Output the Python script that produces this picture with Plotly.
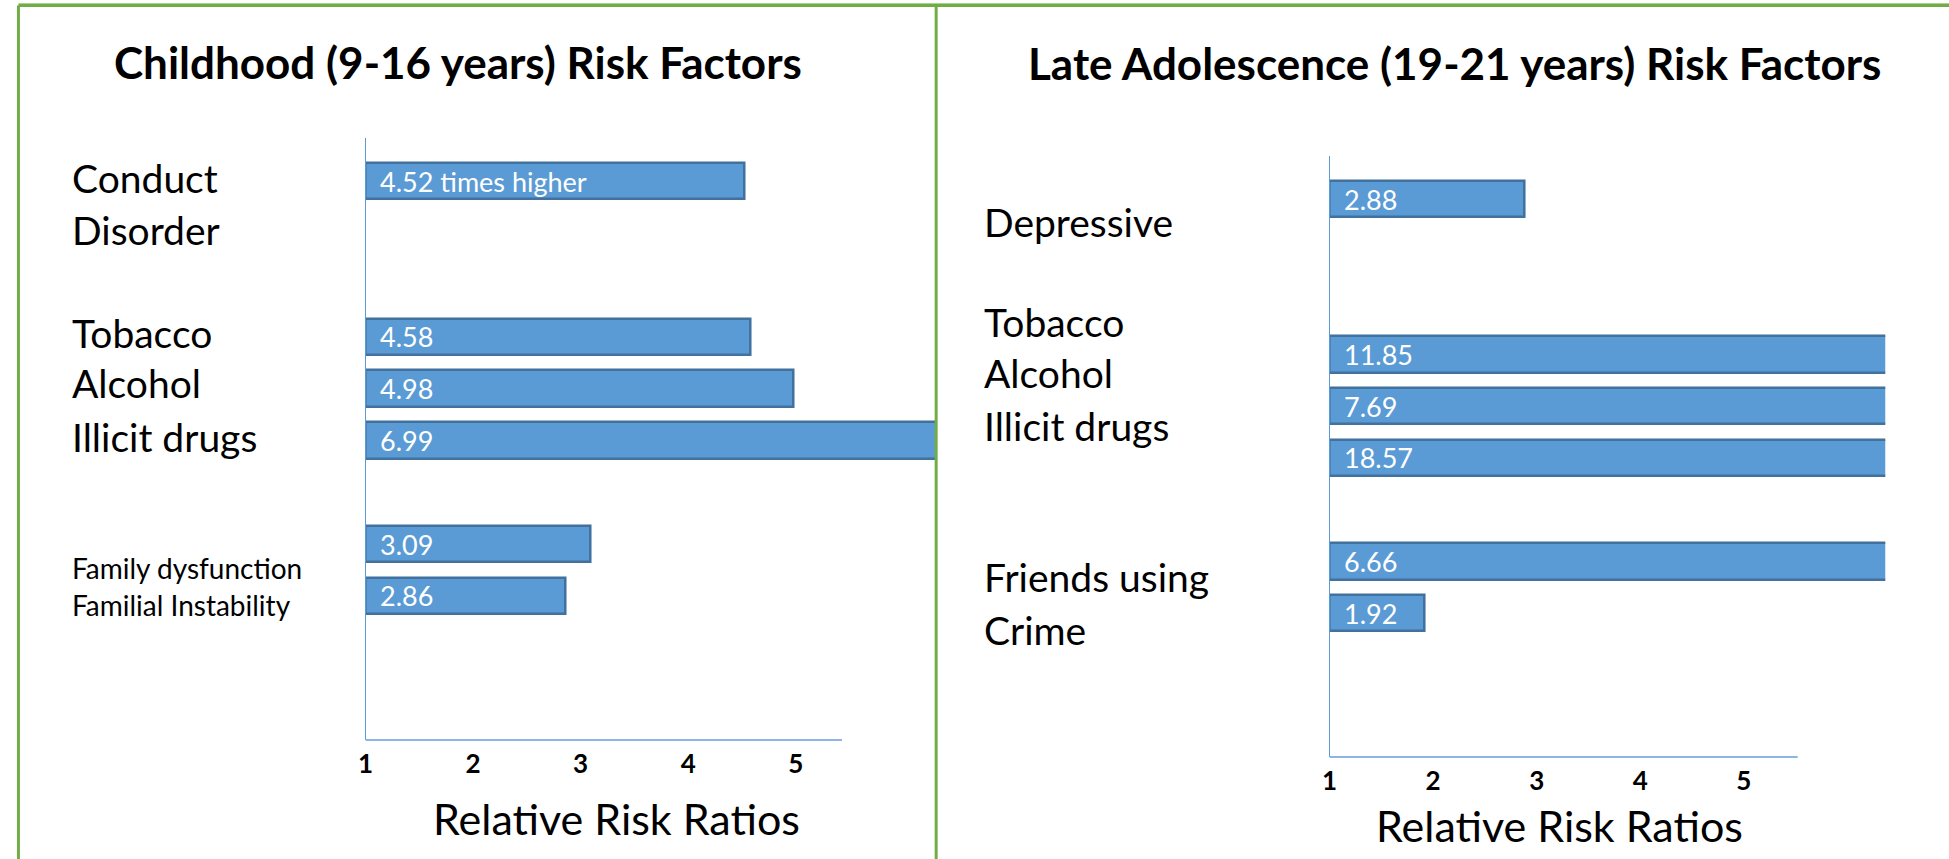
import plotly.graph_objects as go

W, H = 1949, 859
FONT = "Lato, 'Open Sans', sans-serif"

BAR_FILL = "#5b9bd5"
BAR_EDGE = "#41719c"
AXIS_BLUE = "#5b9bd5"
BASE_BLUE = "#8eb4e3"
FRAME_GREEN = "#70ad47"

# ---- Childhood (9-16 years) ----
child_title = "Childhood (9-16 years) Risk Factors"
child_bars = ["Conduct Disorder", "Tobacco", "Alcohol", "Illicit drugs",
              "Family dysfunction", "Familial Instability"]
child_rr = [4.52, 4.58, 4.98, 6.99, 3.09, 2.86]
child_suffix = [" times higher", "", "", "", "", ""]
child_rows = ["Conduct Disorder", "gap-a", "gap-b", "Tobacco", "Alcohol",
              "Illicit drugs", "gap-c", "Family dysfunction", "Familial Instability"]
child_side_big = ["Conduct", "Disorder", "Tobacco", "Alcohol", "Illicit drugs"]
child_side_small = ["Family dysfunction", "Familial Instability"]

# ---- Late Adolescence (19-21 years) ----
late_title = "Late Adolescence (19-21 years) Risk Factors"
late_bars = ["Depressive", "Tobacco", "Alcohol", "Illicit drugs",
             "Friends using", "Crime"]
late_rr = [2.88, 11.85, 7.69, 18.57, 6.66, 1.92]
late_suffix = ["", "", "", "", "", ""]
late_rows = ["Depressive", "gap-a", "gap-b", "Tobacco", "Alcohol",
             "Illicit drugs", "gap-c", "Friends using", "Crime"]
late_side_big = ["Depressive", "Tobacco", "Alcohol", "Illicit drugs",
                 "Friends using", "Crime"]

tick_vals = [1, 2, 3, 4, 5]
tick_text = ["1", "2", "3", "4", "5"]
axis_title = "Relative Risk Ratios"
RR_BASE = 1


def px_x(p):
    return p / W


def px_y(p):
    return 1 - p / H


def paper_text(text, x, y, size, xanchor="center", bold=False):
    return dict(x=px_x(x), y=px_y(y), xref="paper", yref="paper",
                xanchor=xanchor, yanchor="middle",
                text=f"<b>{text}</b>" if bold else text, showarrow=False,
                font=dict(family=FONT, size=size, color="black"))


fig = go.Figure()

for vals, cats, xa, ya in [(child_rr, child_bars, "x", "y"),
                           (late_rr, late_bars, "x2", "y2")]:
    fig.add_trace(go.Bar(
        x=[v - RR_BASE for v in vals], y=cats, base=RR_BASE,
        orientation="h", width=0.7,
        marker=dict(color=BAR_FILL, line=dict(color=BAR_EDGE, width=2.5)),
        xaxis=xa, yaxis=ya, showlegend=False, hoverinfo="skip",
    ))

annotations = []
shapes = []

# value labels inside the bars
for vals, cats, sfx, xr, yr in [(child_rr, child_bars, child_suffix, "x", "y"),
                                (late_rr, late_bars, late_suffix, "x2", "y2")]:
    for v, c, s in zip(vals, cats, sfx):
        annotations.append(dict(
            x=RR_BASE, y=c, xref=xr, yref=yr, xanchor="left", yanchor="middle",
            xshift=12, text=f"{v:.2f}{s}", showarrow=False,
            font=dict(family=FONT, size=27, color="white")))

# panel titles
annotations.append(paper_text(child_title, 452, 62, 44, bold=True))
annotations.append(paper_text(late_title, 1452, 63, 44, bold=True))

# side labels
child_big_y = [178, 230, 333, 383, 437]
child_small_y = [568, 605]
late_big_y = [222, 322, 373, 426, 577, 630]
for t, yy in zip(child_side_big, child_big_y):
    annotations.append(paper_text(t, 62, yy, 39, xanchor="left"))
for t, yy in zip(child_side_small, child_small_y):
    annotations.append(paper_text(t, 62, yy, 28, xanchor="left"))
for t, yy in zip(late_side_big, late_big_y):
    annotations.append(paper_text(t, 978, yy, 39, xanchor="left"))

# x axis titles
annotations.append(paper_text(axis_title, 611, 818, 43))
annotations.append(paper_text(axis_title, 1558, 825, 43))

# baseline under each chart
shapes.append(dict(type="line", xref="x", yref="y domain", x0=RR_BASE, x1=5.43,
                   y0=0, y1=0, line=dict(color=BASE_BLUE, width=2)))
shapes.append(dict(type="line", xref="x2", yref="y2 domain", x0=RR_BASE, x1=5.52,
                   y0=0, y1=0, line=dict(color=BASE_BLUE, width=2)))

# green frame around the two panels
frame_top = px_y(5.5)
shapes += [
    dict(type="line", xref="paper", yref="paper", x0=px_x(10.5), x1=1,
         y0=px_y(3.5), y1=px_y(3.5), line=dict(color="#a9d18e", width=1)),
    dict(type="line", xref="paper", yref="paper", x0=px_x(10.5), x1=1,
         y0=frame_top, y1=frame_top, line=dict(color=FRAME_GREEN, width=3)),
    dict(type="line", xref="paper", yref="paper", x0=px_x(10.5), x1=px_x(10.5),
         y0=0, y1=frame_top, line=dict(color=FRAME_GREEN, width=3)),
    dict(type="line", xref="paper", yref="paper", x0=px_x(932), x1=px_x(932),
         y0=0, y1=frame_top, line=dict(color=FRAME_GREEN, width=3)),
]

xaxis_common = dict(showgrid=False, zeroline=False, showline=False, ticks="",
                    tickvals=tick_vals, ticktext=tick_text,
                    tickfont=dict(family=FONT, size=26, color="black", weight="bold"),
                    ticklabelstandoff=6, fixedrange=True)
yaxis_common = dict(type="category", showgrid=False, zeroline=False,
                    showline=True, linecolor=AXIS_BLUE, linewidth=1,
                    showticklabels=False, ticks="", range=[10.78, -0.835],
                    fixedrange=True)

fig.update_layout(
    width=W, height=H,
    margin=dict(l=0, r=0, t=0, b=0),
    paper_bgcolor="white", plot_bgcolor="white",
    bargap=0,
    xaxis=dict(domain=[px_x(359), px_x(931)], range=[RR_BASE, RR_BASE + 572 / 108],
               anchor="y", **xaxis_common),
    yaxis=dict(domain=[px_y(740), px_y(138)], anchor="x",
               categoryarray=child_rows, categoryorder="array", **yaxis_common),
    xaxis2=dict(domain=[px_x(1327), px_x(1885)], range=[RR_BASE, RR_BASE + 558 / 104],
                anchor="y2", **xaxis_common),
    yaxis2=dict(domain=[px_y(757), px_y(156)], anchor="x2",
                categoryarray=late_rows, categoryorder="array", **yaxis_common),
    annotations=annotations,
    shapes=shapes,
)

fig.write_html("out.html")
